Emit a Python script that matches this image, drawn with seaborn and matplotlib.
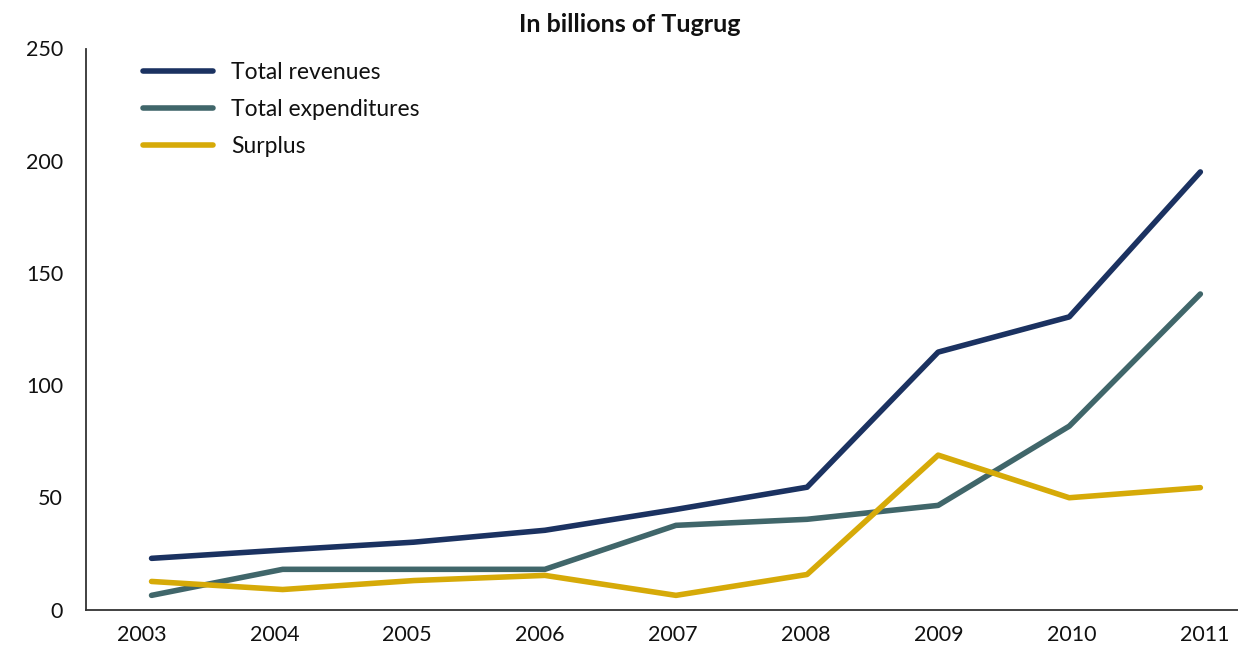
import matplotlib
matplotlib.use("Agg")
import matplotlib.pyplot as plt
import seaborn as sns
import pandas as pd
import numpy as np

years = ["2003", "2004", "2005", "2006", "2007", "2008", "2009", "2010", "2011"]
revenues = [22.8, 26.5, 30.0, 35.3, 44.6, 54.5, 114.7, 130.4, 195.0]
expenditures = [6.3, 17.9, 17.9, 17.9, 37.5, 40.2, 46.4, 81.7, 140.6]
surplus = [12.5, 8.9, 12.9, 15.2, 6.3, 15.6, 68.8, 49.8, 54.3]
series_names = ["Total revenues", "Total expenditures", "Surplus"]
colors = ["#1b3261", "#40666a", "#d6aa08"]
yticks = [0, 50, 100, 150, 200, 250]
title = "In billions of Tugrug"

sns.set_theme(style="white")
plt.rcParams["font.family"] = ["Lato", "DejaVu Sans"]

df = pd.DataFrame({
    "pos": list(range(len(years))) * 3,
    "value": revenues + expenditures + surplus,
    "series": [s for s in series_names for _ in years],
})

W, H = 1238, 645
fig = plt.figure(figsize=(W / 100, H / 100), dpi=100)
left, right, bottom, top = 86, 1238, 609.5, 48.5
ax = fig.add_axes([left / W, (H - bottom) / H, (right - left) / W, (bottom - top) / H])

lw = 4.0
sns.lineplot(data=df, x="pos", y="value", hue="series", hue_order=series_names,
             palette=colors, linewidth=lw, ax=ax, legend=False)

cat_w = 131.1
ax.set_xlim(-0.5, -0.5 + (right - left) / cat_w)
ax.set_ylim(0, 250)
ax.set_yticks(yticks)
ax.set_yticklabels([str(v) for v in yticks])
# label positions: slightly wider pitch than the category centres (as in the source)
label_pos = [i + (-10 + 1.75 * i) / cat_w for i in range(len(years))]
ax.set_xticks(label_pos)
ax.set_xticklabels(years)
ax.set_xticks(np.arange(-0.5, len(years) - 1, 1.0), minor=True)
ax.tick_params(axis="x", which="major", length=0, labelsize=15.5, pad=11, colors="#111111")
ax.tick_params(axis="x", which="minor", length=7, width=1.3, direction="out", color="#333333")
ax.tick_params(axis="y", which="major", length=6.5, width=1.3, direction="out",
               labelsize=15.5, pad=10, color="#333333", labelcolor="#111111")
ax.set_xlabel("")
ax.set_ylabel("")
for s in ["top", "right"]:
    ax.spines[s].set_visible(False)
for s in ["left", "bottom"]:
    ax.spines[s].set_color("#333333")
    ax.spines[s].set_linewidth(1.3)
ax.grid(False)

handles = [plt.Line2D([], [], color=c, linewidth=lw) for c in colors]
fig.legend(handles, series_names, loc="upper left",
           bbox_to_anchor=(143 / W, 1 - 62 / H), frameon=False, fontsize=16.5,
           handlelength=3.05, handletextpad=0.78, labelspacing=0.7, borderpad=0,
           borderaxespad=0, labelcolor="#111111")

fig.text(630 / W, 1 - 25 / H, title, ha="center", va="center", fontsize=18,
         fontweight="bold", color="#111111")

fig.savefig("out.png", dpi=100)
